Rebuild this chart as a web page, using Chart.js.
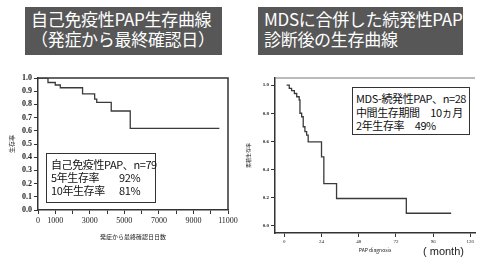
<!DOCTYPE html>
<html lang="ja">
<head>
<meta charset="utf-8">
<title>PAP生存曲線</title>
<script src="https://cdn.jsdelivr.net/npm/chart.js"></script>
<style>
  body { margin: 0; width: 477px; height: 258px; background: #fff; position: relative; overflow: hidden;
         font-family: "Noto Sans CJK JP", "Noto Sans", sans-serif; }
  .ttl { position: absolute; background: #575757; color: #fff; font-size: 17px; line-height: 20px;
         padding: 2px 0 0 6px; box-sizing: border-box; height: 48px; top: 7px; letter-spacing: -0.3px; }
  .box { position: absolute; background: #fff; border: 1.5px solid #333; color: #111; box-sizing: border-box; letter-spacing: -0.4px; }
  .box div { white-space: nowrap; position: relative; }
  .box span { position: absolute; }
  .wrap { position: absolute; }
</style>
</head>
<body>
<div class="ttl" style="left:25px;width:197px;">自己免疫性PAP生存曲線<br>（発症から最終確認日）</div>
<div class="ttl" style="left:258px;width:205px;">MDSに合併した続発性PAP<br>診断後の生存曲線</div>

<div class="wrap" style="left:0;top:70px;width:240px;height:170px;"><canvas id="c1" width="240" height="170"></canvas></div>
<div class="wrap" style="left:240px;top:70px;width:237px;height:188px;"><canvas id="c2" width="237" height="188"></canvas></div>

<div class="box" style="left:46px;top:153px;width:110px;height:50px;font-size:11px;line-height:13px;padding:4px 0 0 4px;">
  <div>自己免疫性PAP、n=79</div>
  <div>5年生存率<span style="left:68px;">92%</span></div>
  <div>10年生存率<span style="left:68px;">81%</span></div>
</div>
<div class="box" style="left:352px;top:87px;width:118px;height:48px;font-size:11px;line-height:13.5px;padding:4px 0 0 3px;">
  <div>MDS-続発性PAP、n=28</div>
  <div>中間生存期間　10ヵ月</div>
  <div>2年生存率　49%</div>
</div>
<div style="position:absolute;left:423px;top:245px;font-size:11px;line-height:13px;font-family:'Liberation Sans',sans-serif;color:#222;">( month)</div>

<script>
// 自己免疫性PAP (days from onset)
const leftDays = [0, 578, 1000, 1290, 2580, 3280, 3400, 4240, 5340, 10500];
const leftSurv = [1.0, 0.966, 0.947, 0.926, 0.879, 0.84, 0.816, 0.75, 0.618, 0.618];
const leftXTicks = [0, 1000, 2000, 3000, 4000, 5000, 6000, 7000, 8000, 9000, 10000, 11000];
const leftXLabels = ['0', '1000', '', '3000', '', '5000', '', '7000', '', '9000', '', '11000'];
const leftYTicks = [0, 0.1, 0.2, 0.3, 0.4, 0.5, 0.6, 0.7, 0.8, 0.9, 1.0];

// MDS-続発性PAP (months after diagnosis)
const rightMonths = [1.5, 3.2, 4.7, 6.5, 8, 9.6, 10.1, 11.2, 12.2, 13.3, 14.4, 15.4, 24, 25.5, 33.7, 78.7, 107.6];
const rightSurv = [1.0, 0.977, 0.96, 0.94, 0.917, 0.894, 0.8, 0.775, 0.704, 0.669, 0.645, 0.597, 0.49, 0.30, 0.195, 0.09, 0.09];
const rightXTicks = [0, 24, 48, 72, 96, 120];
const rightYTicks = [0, 0.2, 0.4, 0.6, 0.8, 1.0];

const frame = {
  id: 'frame',
  beforeDatasetsDraw(chart, args, opts) {
    const a = chart.chartArea, ctx = chart.ctx;
    ctx.save();
    ctx.strokeStyle = opts.color || '#333';
    ctx.lineWidth = opts.width || 1;
    ctx.beginPath();
    ctx.moveTo(a.left, a.top); ctx.lineTo(a.right, a.top);
    if (opts.right) { ctx.lineTo(a.right, a.bottom); }
    ctx.stroke();
    ctx.restore();
  }
};

function pts(xs, ys) { return xs.map((x, i) => ({ x: x, y: ys[i] })); }

function makeChart(id, cfg) {
  return new Chart(document.getElementById(id), {
    type: 'line',
    data: { datasets: [{ data: pts(cfg.xs, cfg.ys), stepped: true, borderColor: '#3a3a3a', borderWidth: 1.3, pointRadius: 0, fill: false }] },
    options: {
      responsive: false, animation: false, devicePixelRatio: 1,
      layout: { padding: cfg.pad },
      plugins: { legend: { display: false }, tooltip: { enabled: false }, frame: cfg.frame },
      scales: {
        x: {
          type: 'linear', min: cfg.xMin, max: cfg.xMax,
          afterBuildTicks: s => { s.ticks = cfg.xTicks.map(v => ({ value: v })); },
          ticks: { autoSkip: false, maxRotation: 0, padding: 2, color: '#222', font: { family: 'Liberation Serif', size: cfg.tickSize },
                   callback: cfg.xLabel },
          grid: { drawOnChartArea: false, tickLength: 4, color: '#333' },
          border: { color: '#333', width: 1.5 },
          title: { display: true, text: cfg.xTitle, color: '#222', font: { size: cfg.titleSize, family: 'Noto Sans CJK JP' }, padding: { top: 1, bottom: 0 } },
          afterFit: s => { s.height = cfg.xH; s.paddingLeft = 0; s.paddingRight = 0; }
        },
        y: {
          type: 'linear', min: cfg.yMin, max: cfg.yMax,
          afterBuildTicks: s => { s.ticks = cfg.yTicks.map(v => ({ value: v })); },
          ticks: { autoSkip: false, padding: 2, color: '#222', font: { family: 'Liberation Serif', size: cfg.tickSize, weight: 'bold' },
                   callback: v => v.toFixed(1) },
          grid: { drawOnChartArea: false, tickLength: 4, color: '#333' },
          border: { color: '#333', width: 1.5 },
          title: { display: true, text: cfg.yTitle, color: '#222', font: { size: cfg.titleSize, family: 'Noto Sans CJK JP' }, padding: 0 },
          afterFit: s => { s.width = 30; s.paddingTop = 0; s.paddingBottom = 0; }
        }
      }
    },
    plugins: [frame]
  });
}

makeChart('c1', {
  xs: leftDays, ys: leftSurv, xMin: 0, xMax: 11000, yMin: 0, yMax: 1,
  xTicks: leftXTicks, yTicks: leftYTicks, xLabel: (v, i) => leftXLabels[i],
  xTitle: '発症から最終確認日日数', yTitle: '生存率',
  pad: { left: 8, top: 8, right: 12, bottom: 0 }, xH: 30, tickSize: 8, titleSize: 6,
  frame: { right: true, color: '#333', width: 1.5 }
});

makeChart('c2', {
  xs: rightMonths, ys: rightSurv, xMin: -6, xMax: 123, yMin: -0.05, yMax: 1.05,
  xTicks: rightXTicks, yTicks: rightYTicks, xLabel: v => String(v),
  xTitle: 'PAP diagnosis', yTitle: '累積生存率',
  pad: { left: 5, top: 8, right: 2, bottom: 5 }, xH: 20, tickSize: 5, titleSize: 5,
  frame: { right: false, color: '#777', width: 1 }
});
</script>
</body>
</html>
